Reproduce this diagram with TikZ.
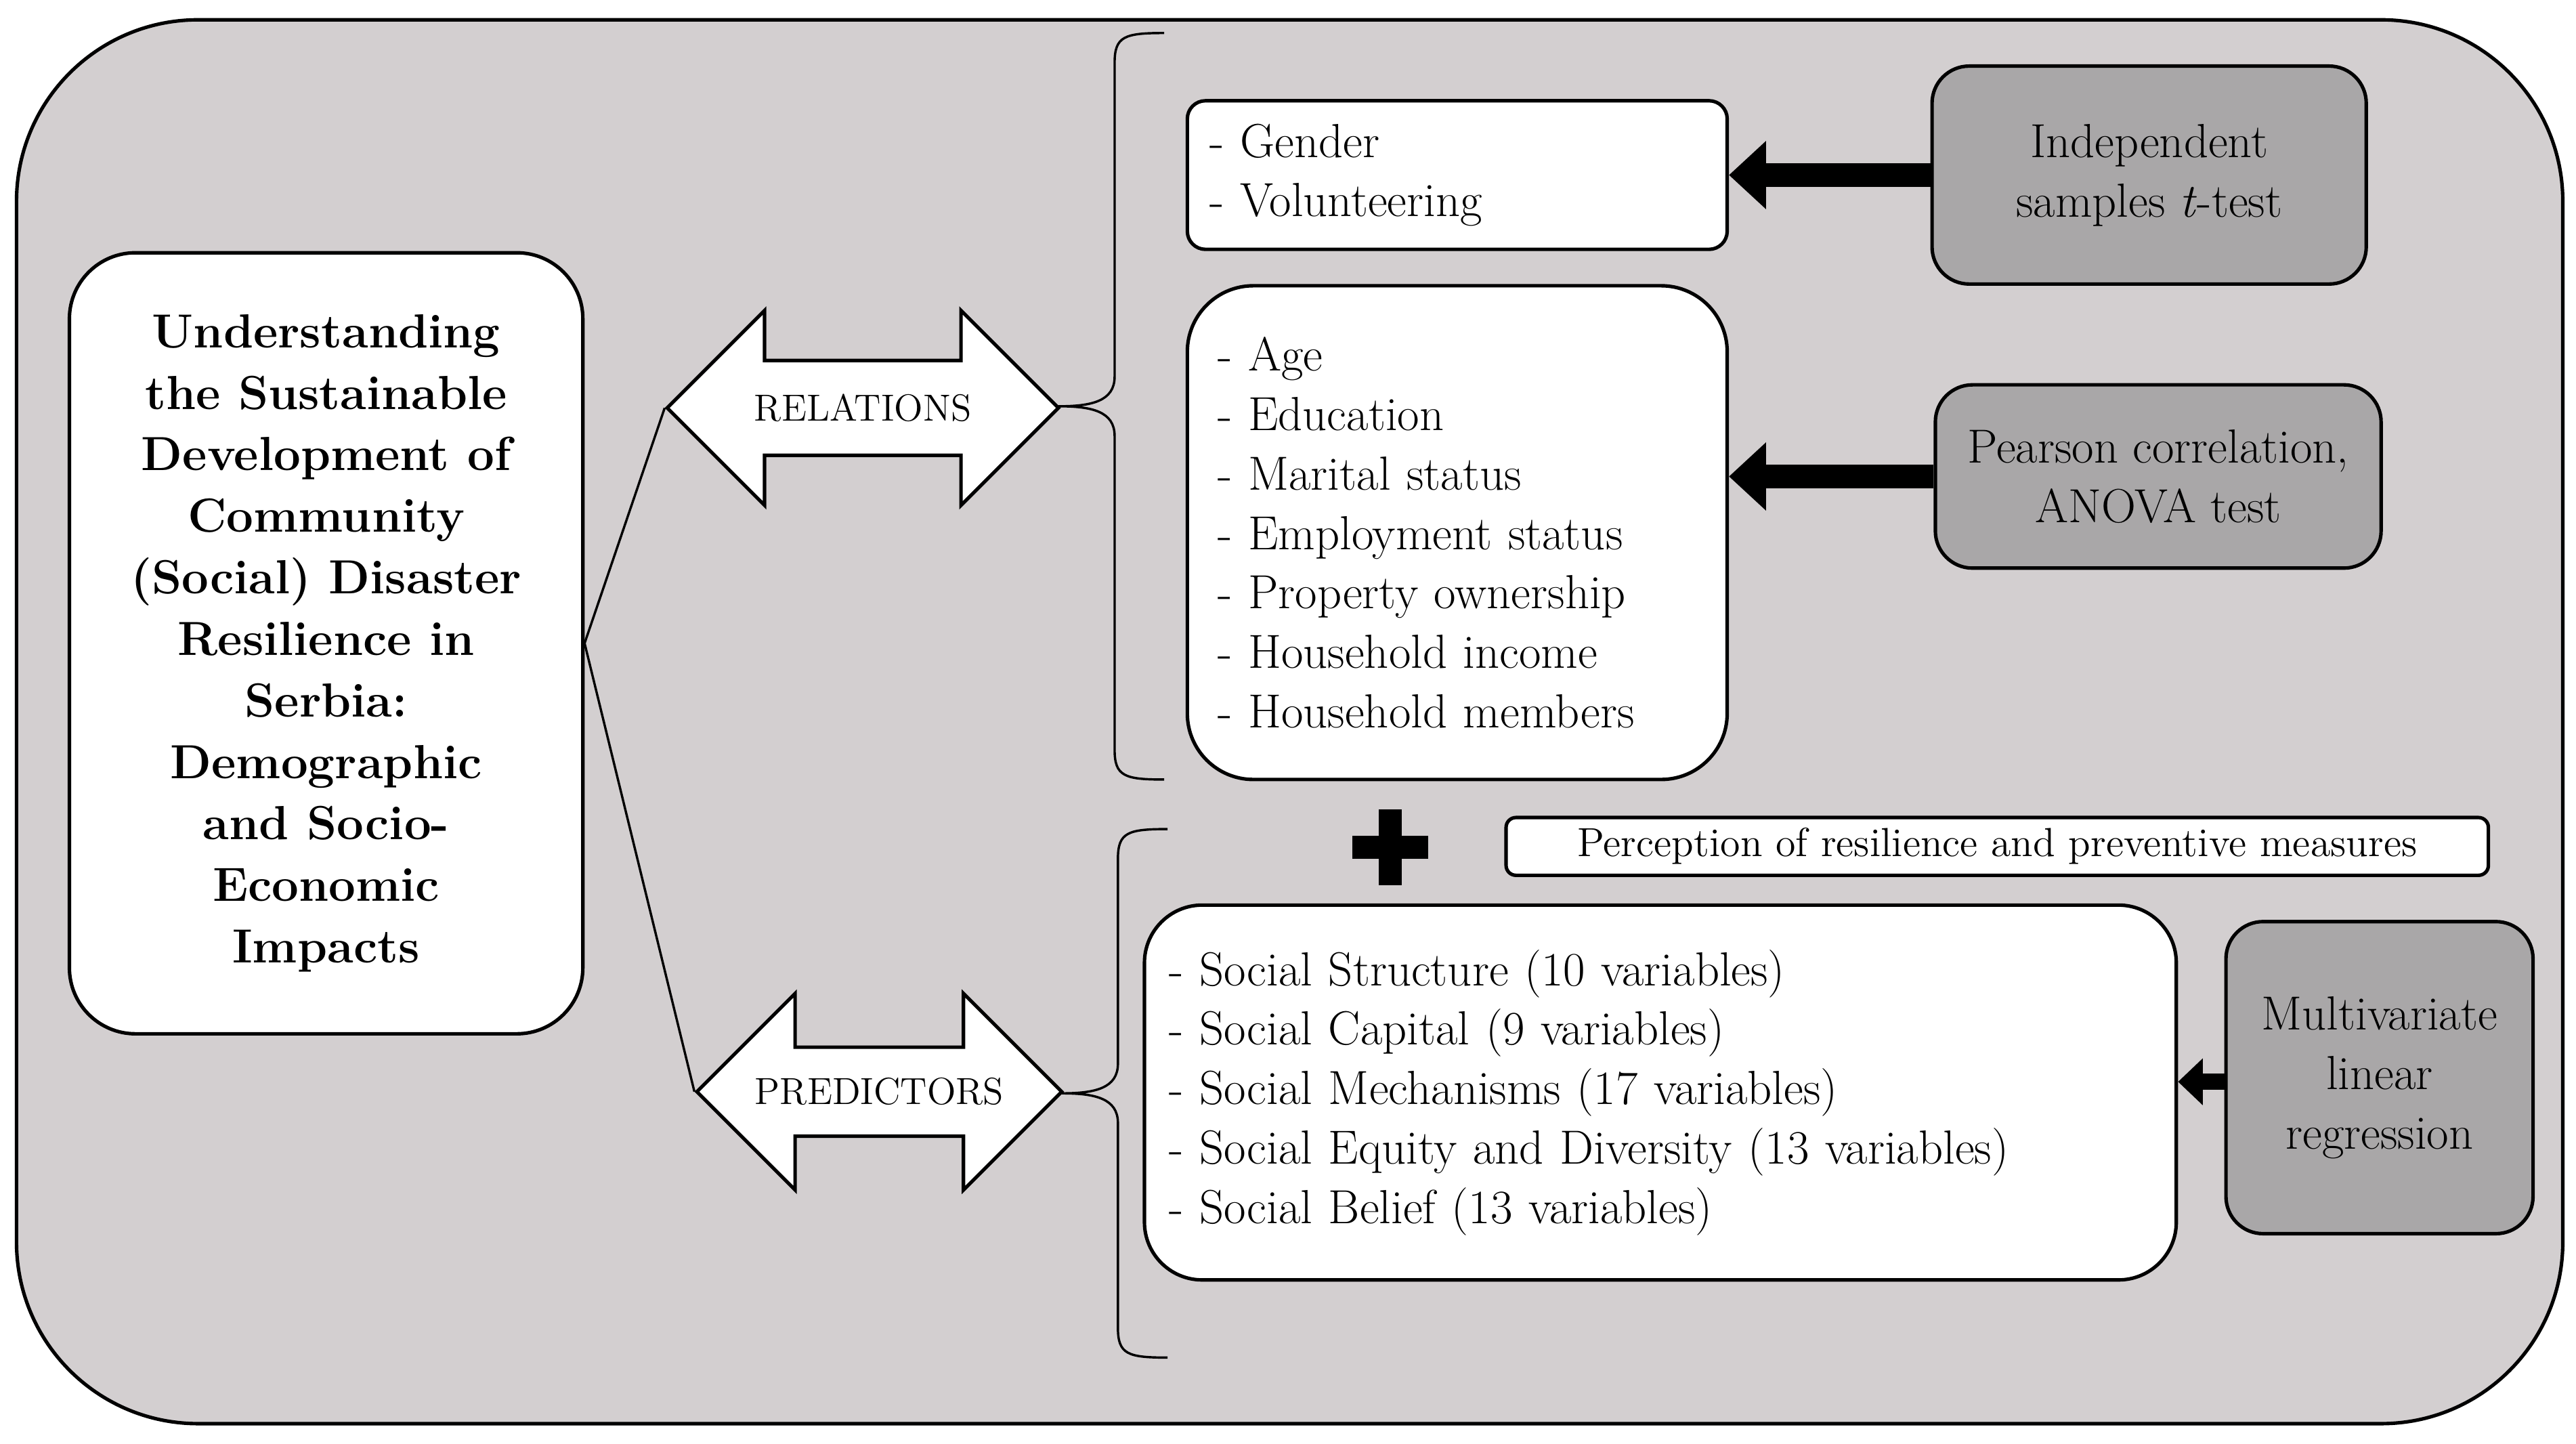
\documentclass[tikz,border=0pt]{standalone}
\usetikzlibrary{shapes.arrows,arrows.meta}
\definecolor{bgGrey}{HTML}{D3CFD0}
\definecolor{boxGrey}{HTML}{A9A7A8}
\tikzset{
  list box/.style = {draw, fill=white, line width=1.2pt, align=left, anchor=center,
                     font=\fontsize{16.5}{20.5}\selectfont},
  test box/.style = {draw, fill=boxGrey, line width=1.2pt, align=center, rounded corners=0.45cm,
                     font=\fontsize{16.5}{20.5}\selectfont},
  rel arrow/.style = {double arrow, draw, fill=white, line width=1.2pt, double arrow head extend=0.6cm,
                      inner ysep=0.38cm, font=\fontsize{13}{15}\selectfont},
  fat arrow/.style = {line width=0.28cm, -{Triangle[length=0.45cm,width=0.8cm]}},
  side brace/.style = {line width=0.8pt}
}
\newcommand\sidebrace[3]{% x of tip, top y, bottom y
  \draw[side brace] (#1+64,#2) .. controls (#1+40,#2) and (#1+34,#2+2) .. (#1+34,#2+18)
    -- (#1+34,{(#2+#3)/2-18}) .. controls (#1+34,{(#2+#3)/2-3}) and (#1+20,{(#2+#3)/2}) .. (#1,{(#2+#3)/2})
    .. controls (#1+20,{(#2+#3)/2}) and (#1+34,{(#2+#3)/2+3}) .. (#1+34,{(#2+#3)/2+18})
    -- (#1+34,#3-18) .. controls (#1+34,#3-2) and (#1+40,#3) .. (#1+64,#3);}
\begin{document}
\begin{tikzpicture}[x=0.02cm, y=-0.02cm]
    \useasboundingbox (0,0) rectangle (1560,874);
    \draw[fill=bgGrey, line width=1.2pt, rounded corners=2.2cm] (10,12) rectangle (1552,862);
    % title
    \node (title) [list box, align=center, rounded corners=0.8cm, minimum width=6.22cm, minimum height=9.46cm,
        font=\fontsize{16.5}{21.2}\selectfont\bfseries] at (197.5,389.5)
        {Understanding\\the Sustainable\\Development of\\Community\\(Social) Disaster\\Resilience in\\Serbia:\\Demographic\\and Socio-\\Economic\\Impacts};
    % relations / predictors
    \node (rel) [rel arrow, minimum height=4.74cm, minimum width=2.36cm] at (522.5,247) {RELATIONS};
    \node (pred) [rel arrow, minimum height=4.42cm, minimum width=2.38cm, inner ysep=0.31cm] at (532.5,661) {PREDICTORS};
    \draw[line width=0.8pt] (title.east) -- (rel.west);
    \draw[line width=0.8pt] (title.east) -- (pred.west);
    \sidebrace{641}{20}{472}
    \sidebrace{643}{502}{822}
    % variable lists
    \node (gender) [list box, rounded corners=0.22cm, minimum width=6.54cm, minimum height=1.8cm, text width=6.0cm]
        at (882.5,106) {- Gender\\- Volunteering};
    \node (age) [list box, rounded corners=0.8cm, minimum width=6.54cm, minimum height=5.98cm, text width=5.8cm]
        at (882.5,322.5) {- Age\\- Education\\- Marital status\\- Employment status\\- Property ownership\\- Household income\\- Household members};
    \node (social) [list box, rounded corners=0.7cm, minimum width=12.5cm, minimum height=4.54cm, text width=11.9cm]
        at (1005.5,661.5) {- Social Structure (10 variables)\\- Social Capital (9 variables)\\- Social Mechanisms (17 variables)\\- Social Equity and Diversity (13 variables)\\- Social Belief (13 variables)};
    \node (percep) [list box, align=center, rounded corners=0.12cm, minimum width=11.9cm, minimum height=0.7cm,
        inner sep=0pt, font=\fontsize{14}{17}\selectfont] at (1209.5,512.5) {Perception of resilience and preventive measures};
    % plus sign
    \fill (842,490) ++(-7,0) rectangle ++(14,46);
    \fill (819,506) rectangle ++(46,14);
    % tests
    \node (ttest) [test box, minimum width=5.26cm, minimum height=2.64cm] at (1301.5,106) {Independent\\samples \textit{t}-test};
    \node (pearson) [test box, minimum width=5.4cm, minimum height=2.22cm] at (1307,288.5) {Pearson correlation,\\ANOVA test};
    \node (multi) [test box, minimum width=3.72cm, minimum height=3.78cm] at (1441,652.5) {Multivariate\\linear\\regression};
    \draw[fat arrow] (ttest.west) -- (gender.east);
    \draw[fat arrow] (pearson.west) -- (age.east |- pearson.west);
    \draw[line width=0.2cm, -{Triangle[length=0.3cm,width=0.55cm]}] (multi.west |- 0,655) -- (social.east |- 0,655);
\end{tikzpicture}
\end{document}
